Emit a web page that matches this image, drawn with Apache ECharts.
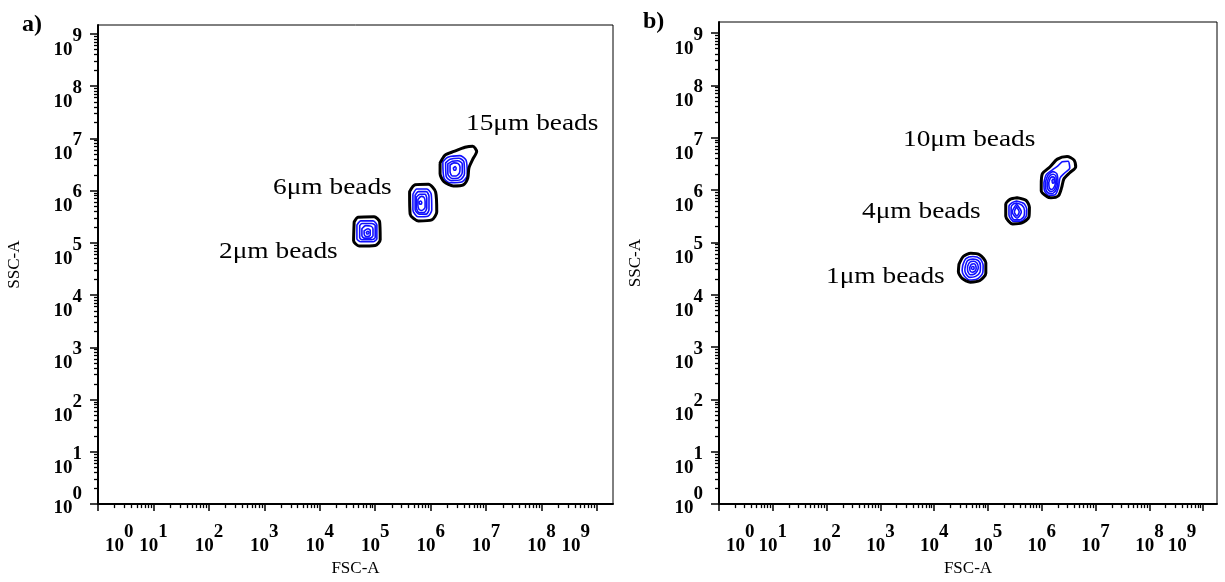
<!DOCTYPE html>
<html>
<head>
<meta charset="utf-8">
<script src="https://cdn.jsdelivr.net/npm/echarts@6/dist/echarts.min.js"></script>
<style>
  html, body { margin: 0; padding: 0; background: #fff; }
  #chart { width: 1225px; height: 582px; }
</style>
</head>
<body>
<div id="chart"></div>
<script>
// Decade exponents used for the log-style axes (value = log10 of the signal)
const DECADES = [0, 1, 2, 3, 4, 5, 6, 7, 8, 9];
const MINOR_MULTIPLIERS = [2, 3, 4, 5, 6, 7, 8, 9];

// Population contours, vertices as [log10 FSC-A, log10 SSC-A]
// Panel a) — 2 µm beads
const a2Outer = [[4.62,5.40],[4.69,5.49],[4.98,5.50],[5.08,5.40],[5.09,5.06],[5.00,4.95],[4.71,4.94],[4.61,5.04]];
const a2Inner = [
  [[4.67,5.34],[4.74,5.42],[4.96,5.42],[5.03,5.34],[5.03,5.08],[4.96,5.02],[4.74,5.02],[4.67,5.08]],
  [[4.72,5.33],[4.76,5.37],[4.94,5.37],[5.00,5.33],[5.00,5.10],[4.94,5.06],[4.76,5.06],[4.72,5.10]],
  [[4.76,5.27],[4.83,5.33],[4.92,5.32],[4.96,5.27],[4.96,5.14],[4.91,5.09],[4.80,5.09],[4.76,5.14]],
  [[4.80,5.23],[4.87,5.27],[4.91,5.24],[4.91,5.15],[4.87,5.12],[4.82,5.13],[4.80,5.18]],
  [[4.84,5.20],[4.87,5.22],[4.89,5.20],[4.87,5.17],[4.85,5.17]]
];
// Panel a) — 6 µm beads
const a6Outer = [[5.62,5.98],[5.72,6.11],[5.96,6.12],[6.09,5.97],[6.11,5.59],[6.02,5.44],[5.78,5.42],[5.63,5.55]];
const a6Inner = [
  [[5.68,5.93],[5.75,6.03],[5.93,6.03],[6.01,5.93],[6.02,5.63],[5.95,5.51],[5.77,5.50],[5.68,5.63]],
  [[5.72,5.91],[5.78,5.98],[5.92,5.98],[5.97,5.89],[5.97,5.64],[5.92,5.55],[5.79,5.55],[5.72,5.64]],
  [[5.74,5.87],[5.81,5.93],[5.90,5.93],[5.93,5.85],[5.93,5.66],[5.88,5.58],[5.79,5.58],[5.74,5.68]],
  [[5.77,5.83],[5.83,5.89],[5.88,5.87],[5.90,5.79],[5.90,5.68],[5.84,5.62],[5.79,5.64],[5.77,5.72]],
  [[5.79,5.78],[5.82,5.80],[5.84,5.77],[5.83,5.74],[5.80,5.74]]
];
// Panel a) — 15 µm beads
const a15Outer = [[6.17,6.53],[6.26,6.68],[6.42,6.75],[6.62,6.83],[6.76,6.85],[6.83,6.75],[6.76,6.60],[6.69,6.43],[6.67,6.24],[6.59,6.11],[6.41,6.09],[6.24,6.17],[6.17,6.32]];
const a15Inner = [
  [[6.22,6.55],[6.31,6.64],[6.53,6.67],[6.64,6.58],[6.66,6.30],[6.57,6.17],[6.35,6.15],[6.24,6.24]],
  [[6.27,6.53],[6.35,6.60],[6.51,6.62],[6.60,6.55],[6.61,6.32],[6.54,6.21],[6.37,6.19],[6.28,6.27]],
  [[6.31,6.51],[6.39,6.56],[6.49,6.57],[6.57,6.51],[6.57,6.34],[6.50,6.24],[6.39,6.23],[6.31,6.32]],
  [[6.35,6.49],[6.42,6.53],[6.49,6.52],[6.53,6.45],[6.52,6.34],[6.46,6.28],[6.39,6.28],[6.35,6.36]],
  [[6.41,6.43],[6.44,6.46],[6.46,6.43],[6.45,6.39],[6.42,6.39]]
];

// Panel b) — 1 µm beads
const b1Outer = [[4.46,4.58],[4.54,4.73],[4.68,4.79],[4.85,4.76],[4.96,4.61],[4.96,4.41],[4.85,4.27],[4.67,4.24],[4.52,4.31],[4.45,4.44]];
const b1Inner = [
  [[4.53,4.56],[4.59,4.69],[4.72,4.73],[4.85,4.69],[4.91,4.56],[4.90,4.41],[4.80,4.30],[4.65,4.28],[4.55,4.37],[4.52,4.46]],
  [[4.58,4.55],[4.62,4.65],[4.72,4.68],[4.82,4.65],[4.86,4.55],[4.85,4.43],[4.77,4.35],[4.66,4.33],[4.59,4.40],[4.57,4.47]],
  [[4.62,4.54],[4.66,4.62],[4.73,4.64],[4.79,4.61],[4.82,4.53],[4.80,4.45],[4.74,4.39],[4.67,4.38],[4.63,4.43],[4.62,4.48]],
  [[4.66,4.52],[4.69,4.58],[4.74,4.59],[4.77,4.56],[4.78,4.50],[4.76,4.45],[4.71,4.43],[4.67,4.45]],
  [[4.69,4.51],[4.71,4.54],[4.74,4.53],[4.74,4.49],[4.71,4.48]]
];
// Panel b) — 4 µm beads
const b4Outer = [[5.54,5.85],[5.71,5.80],[5.77,5.67],[5.76,5.48],[5.63,5.37],[5.46,5.35],[5.33,5.50],[5.33,5.73],[5.41,5.82]];
const b4Inner = [
  [[5.53,5.79],[5.67,5.74],[5.72,5.63],[5.71,5.50],[5.61,5.40],[5.48,5.40],[5.39,5.52],[5.39,5.69],[5.45,5.76]],
  [[5.53,5.75],[5.63,5.71],[5.68,5.61],[5.67,5.50],[5.59,5.43],[5.49,5.43],[5.43,5.52],[5.43,5.67],[5.47,5.73]],
  [[5.53,5.73],[5.62,5.58],[5.54,5.46],[5.45,5.58]],
  [[5.53,5.68],[5.58,5.58],[5.54,5.50],[5.49,5.58]]
];
// Panel b) — 10 µm beads
const b10Outer = [[5.99,6.10],[6.01,6.31],[6.15,6.44],[6.29,6.59],[6.47,6.64],[6.60,6.57],[6.63,6.44],[6.52,6.33],[6.41,6.21],[6.37,6.05],[6.31,5.89],[6.17,5.85],[6.10,5.87],[5.99,5.98]];
const b10Inner = [
  [[6.04,6.14],[6.08,6.29],[6.19,6.38],[6.30,6.46],[6.38,6.54],[6.49,6.55],[6.52,6.42],[6.43,6.33],[6.34,6.23],[6.31,6.05],[6.25,5.91],[6.13,5.90],[6.05,5.99]],
  [[6.07,6.16],[6.12,6.29],[6.21,6.35],[6.28,6.31],[6.30,6.14],[6.26,5.99],[6.19,5.93],[6.11,5.95],[6.07,6.05]],
  [[6.10,6.15],[6.14,6.26],[6.21,6.30],[6.26,6.27],[6.27,6.13],[6.24,6.01],[6.18,5.97],[6.13,5.99],[6.10,6.06]],
  [[6.13,6.14],[6.16,6.23],[6.21,6.25],[6.24,6.22],[6.25,6.12],[6.22,6.04],[6.18,6.01],[6.14,6.04]],
  [[6.19,6.18],[6.21,6.21],[6.23,6.19],[6.23,6.14],[6.20,6.13]]
];

const labelsA = ['2\u03bcm beads', '6\u03bcm beads', '15\u03bcm beads'];
const labelsB = ['1\u03bcm beads', '4\u03bcm beads', '10\u03bcm beads'];
const panelTitles = ['a)', 'b)'];
const axisNames = { x: 'FSC-A', y: 'SSC-A' };

// ---------------------------------------------------------------------------
const SERIF = '"Liberation Serif", "Times New Roman", serif';
const BLACK = '#000';
const CONTOUR_BLUE = '#1010ff';

// minor tick positions (log10 of 2..9 within each decade)
const minorTicks = [];
DECADES.slice(0, -1).forEach(d => MINOR_MULTIPLIERS.forEach(m => minorTicks.push(d + Math.log10(m))));

// "10" with a raised exponent of the same size
const digit = { fontFamily: SERIF, fontWeight: 'bold', fontSize: 19, color: BLACK, verticalAlign: 'bottom' };
const labelRich = {
  b:  Object.assign({}, digit),
  b0: Object.assign({}, digit, { padding: [0, 0, 0, 7] }),
  s:  Object.assign({}, digit, { padding: [18, 0, 14, 0] }),
  s9: Object.assign({}, digit, { padding: [18, 7, 14, 0] }),
  // bottom label of the vertical axis sits above its tick
  bz: Object.assign({}, digit, { padding: [0, 0, 6, 0] }),
  sz: Object.assign({}, digit, { padding: [0, 0, 20, 0] })
};
function xDecadeLabel(v) {
  const k = Math.round(v);
  if (k === 0) return '{b0|10}{s|0}';
  if (k === 9) return '{b|10}{s9|9}';
  return '{b|10}{s|' + k + '}';
}
function yDecadeLabel(v) {
  const k = Math.round(v);
  if (k === 0) return '{bz|10}{sz|0}';
  return '{b|10}{s|' + k + '}';
}

const panels = [
  { grid: { left: 98, top: 25, width: 515, height: 489 }, xMax: 9.289, yMax: 9.169 },
  { grid: { left: 719, top: 22, width: 498, height: 489 }, xMax: 9.257, yMax: 9.209 }
];

const grids = [], xAxes = [], yAxes = [];
panels.forEach((p, i) => {
  grids.push(Object.assign({ show: true, borderColor: BLACK, borderWidth: 1, backgroundColor: '#fff' }, p.grid));
  // major axis (line, long ticks, labels, name)
  xAxes.push({
    gridIndex: i, type: 'value', min: 0, max: p.xMax, position: 'bottom',
    axisLine: { show: true, onZero: false, lineStyle: { color: BLACK, width: 2 } },
    axisTick: { show: true, length: 7, customValues: DECADES, lineStyle: { color: BLACK, width: 1.5 } },
    axisLabel: { show: true, customValues: DECADES, margin: 0, formatter: xDecadeLabel, rich: labelRich,
                 alignMinLabel: 'left', alignMaxLabel: 'right' },
    splitLine: { show: false },
    name: axisNames.x, nameLocation: 'middle', nameGap: 53,
    nameTextStyle: { fontFamily: SERIF, fontSize: 17, color: BLACK }
  });
  // minor ticks
  xAxes.push({
    gridIndex: i, type: 'value', min: 0, max: p.xMax, position: 'bottom', offset: 0,
    axisLine: { show: false },
    axisTick: { show: true, length: 4, customValues: minorTicks, lineStyle: { color: BLACK, width: 1.3 } },
    axisLabel: { show: false }, splitLine: { show: false }
  });
  yAxes.push({
    gridIndex: i, type: 'value', min: 0, max: p.yMax, position: 'left',
    axisLine: { show: true, onZero: false, lineStyle: { color: BLACK, width: 2 } },
    axisTick: { show: true, length: 8, customValues: DECADES, lineStyle: { color: BLACK, width: 1.5 } },
    axisLabel: { show: true, customValues: DECADES, margin: 16, formatter: yDecadeLabel, rich: labelRich },
    splitLine: { show: false },
    name: axisNames.y, nameLocation: 'middle', nameGap: 75, nameRotate: 90,
    nameTextStyle: { fontFamily: SERIF, fontSize: 17, color: BLACK }
  });
  yAxes.push({
    gridIndex: i, type: 'value', min: 0, max: p.yMax, position: 'left', offset: 0,
    axisLine: { show: false },
    axisTick: { show: true, length: 4, customValues: minorTicks, lineStyle: { color: BLACK, width: 1.3 } },
    axisLabel: { show: false }, splitLine: { show: false }
  });
});

function contour(points, panel, color, width, z) {
  return {
    type: 'line', xAxisIndex: panel * 2, yAxisIndex: panel * 2,
    data: points.concat([points[0]]),
    symbol: 'none', showSymbol: false, smooth: 0.25, silent: true, animation: false, z: z,
    lineStyle: { color: color, width: width, join: 'round', cap: 'round' }
  };
}

const series = [];
[[a2Outer, a2Inner], [a6Outer, a6Inner], [a15Outer, a15Inner]].forEach(([o, inner]) => {
  inner.forEach(r => series.push(contour(r, 0, CONTOUR_BLUE, 1.6, 3)));
  series.push(contour(o, 0, BLACK, 3, 4));
});
[[b1Outer, b1Inner], [b4Outer, b4Inner], [b10Outer, b10Inner]].forEach(([o, inner]) => {
  inner.forEach(r => series.push(contour(r, 1, CONTOUR_BLUE, 1.6, 3)));
  series.push(contour(o, 1, BLACK, 3, 4));
});

function annotation(text, x, y) {
  return { type: 'text', x: x, y: y, scaleX: 1.14, z: 10, silent: true,
           style: { text: text, font: '24px ' + SERIF, fill: BLACK, align: 'left', verticalAlign: 'middle' } };
}
const graphics = [
  { type: 'text', x: 22, y: 25, z: 10, silent: true,
    style: { text: panelTitles[0], font: 'bold 24px ' + SERIF, fill: BLACK, align: 'left', verticalAlign: 'middle' } },
  { type: 'text', x: 643, y: 22, z: 10, silent: true,
    style: { text: panelTitles[1], font: 'bold 24px ' + SERIF, fill: BLACK, align: 'left', verticalAlign: 'middle' } },
  annotation(labelsA[0], 219, 252),
  annotation(labelsA[1], 273, 188),
  annotation(labelsA[2], 466, 124),
  annotation(labelsB[0], 826, 277),
  annotation(labelsB[1], 862, 212),
  annotation(labelsB[2], 903, 140)
];

const chart = echarts.init(document.getElementById('chart'), null, { renderer: 'canvas' });
chart.setOption({
  backgroundColor: '#fff',
  animation: false,
  grid: grids,
  xAxis: xAxes,
  yAxis: yAxes,
  series: series,
  graphic: graphics
});
</script>
</body>
</html>
